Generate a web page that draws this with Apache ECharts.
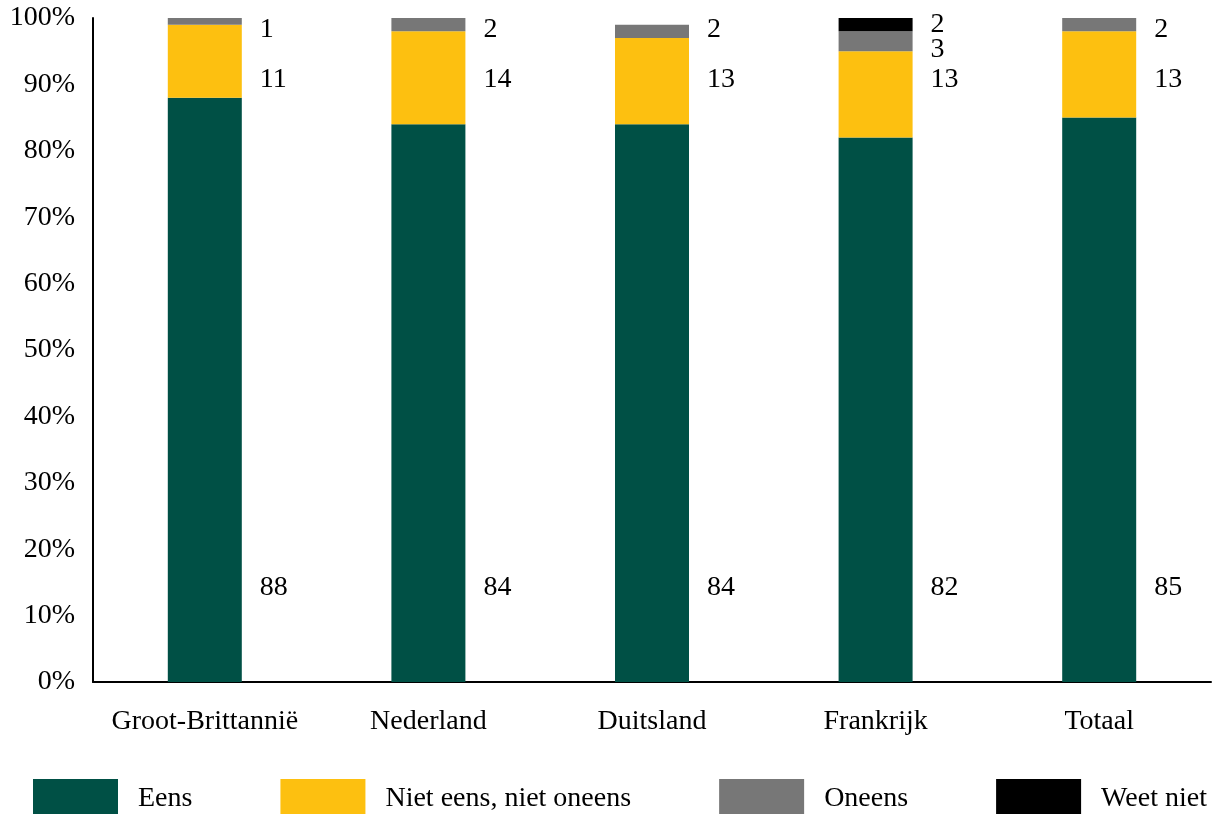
<!DOCTYPE html>
<html>
<head>
<meta charset="utf-8">
<script src="https://cdn.jsdelivr.net/npm/echarts@6/dist/echarts.min.js"></script>
<style>
html,body{margin:0;padding:0;background:#fff;}
#chart{width:1213px;height:814px;}
</style>
</head>
<body>
<div id="chart"></div>
<script>
const categories = ['Groot-Brittannië', 'Nederland', 'Duitsland', 'Frankrijk', 'Totaal'];
const seriesNames = ['Eens', 'Niet eens, niet oneens', 'Oneens', 'Weet niet'];
const eens = [88, 84, 84, 82, 85];
const neutraal = [11, 14, 13, 13, 13];
const oneens = [1, 2, 2, 3, 2];
const weetNiet = [0, 0, 0, 2, 0];
const colors = ['#005045', '#FDC010', '#777777', '#000000'];

const values = [eens, neutraal, oneens, weetNiet];
const FONT = 'Liberation Serif, Times New Roman, serif';

const chart = echarts.init(document.getElementById('chart'));

function buildSeries(px) {
  return values.map((arr, s) => ({
    name: seriesNames[s],
    type: 'bar',
    stack: 'total',
    barWidth: 74,
    itemStyle: { color: colors[s] },
    emphasis: { disabled: true },
    data: arr.map((v, i) => {
      let below = 0;
      for (let k = 0; k < s; k++) below += values[k][i];
      const top = below + v;
      let level;
      if (s === 0) level = 14.2;
      else if (s === 1) level = 90.7;
      else if (s === 2) level = weetNiet[i] > 0 ? below + 0.3 : 98.2;
      else level = below + v / 2;
      const dy = px ? px(level) - px(top) : 0;
      return {
        value: v,
        label: {
          show: v > 0,
          position: ['100%', 0],
          offset: [18, dy],
          align: 'left',
          verticalAlign: 'middle',
          formatter: String(v),
          color: '#000',
          fontFamily: FONT,
          fontSize: 28
        }
      };
    })
  }));
}

const option = {
  animation: false,
  backgroundColor: '#fff',
  grid: { left: 93, right: 2, top: 18, bottom: 132, containLabel: false },
  legend: {
    left: 33,
    top: 779,
    padding: 0,
    itemWidth: 85,
    itemHeight: 40,
    itemGap: 88,
    icon: 'rect',
    selectedMode: false,
    data: seriesNames,
    textStyle: { fontFamily: FONT, fontSize: 28, color: '#000', padding: [0, 0, 0, 15] }
  },
  xAxis: {
    type: 'category',
    data: categories,
    axisLine: { show: true, lineStyle: { color: '#000', width: 2 } },
    axisTick: { show: false },
    axisLabel: { color: '#000', fontFamily: FONT, fontSize: 28, margin: 26, interval: 0 }
  },
  yAxis: {
    type: 'value',
    min: 0,
    max: 100,
    interval: 10,
    axisLine: { show: true, lineStyle: { color: '#000', width: 2 } },
    axisTick: { show: false },
    splitLine: { show: false },
    axisLabel: { color: '#000', fontFamily: FONT, fontSize: 28, margin: 18, formatter: '{value}%' }
  },
  series: buildSeries(null)
};

chart.setOption(option);
const px = v => chart.convertToPixel({ yAxisIndex: 0 }, v);
chart.setOption({ series: buildSeries(px) });
</script>
</body>
</html>
